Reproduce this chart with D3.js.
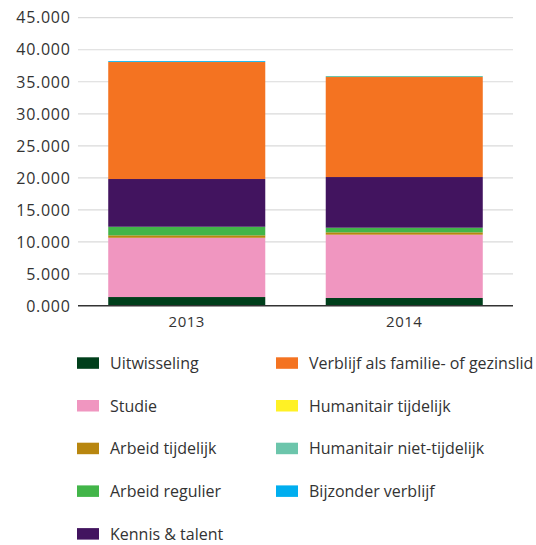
<!DOCTYPE html>
<html>
<head>
<meta charset="utf-8">
<script src="https://cdn.jsdelivr.net/npm/d3@7"></script>
<style>
  html, body { margin: 0; padding: 0; background: #fff; }
  svg { display: block; }
  text { font-family: "Open Sans", "Noto Sans", sans-serif; fill: #333; }
</style>
</head>
<body>
<svg id="chart" width="536" height="545"></svg>
<script>
const years = ["2013", "2014"];
const seriesNames = [
  "Uitwisseling", "Studie", "Arbeid tijdelijk", "Arbeid regulier", "Kennis & talent",
  "Verblijf als familie- of gezinslid", "Humanitair tijdelijk", "Humanitair niet-tijdelijk", "Bijzonder verblijf"
];
const seriesColors = ["#003f1b", "#f096c0", "#b8860f", "#42b549", "#42145f",
  "#f47321", "#fff125", "#6cc5ab", "#00aeef"];
const uitwisseling = [1400, 1250];
const studie = [9250, 9880];
const arbeidTijdelijk = [380, 370];
const arbeidRegulier = [1340, 720];
const kennisTalent = [7450, 7910];
const verblijfFamilie = [18260, 15610];
const humanitairTijdelijk = [0, 0];
const humanitairNietTijdelijk = [30, 160];
const bijzonderVerblijf = [130, 0];
const yTicks = [0, 5000, 10000, 15000, 20000, 25000, 30000, 35000, 40000, 45000];
const yTickLabels = ["0.000", "5.000", "10.000", "15.000", "20.000", "25.000", "30.000", "35.000", "40.000", "45.000"];

const seriesValues = [uitwisseling, studie, arbeidTijdelijk, arbeidRegulier, kennisTalent,
  verblijfFamilie, humanitairTijdelijk, humanitairNietTijdelijk, bijzonderVerblijf];

const table = years.map((yr, i) => {
  const row = { year: yr };
  seriesNames.forEach((s, k) => row[s] = seriesValues[k][i]);
  return row;
});

const svg = d3.select("#chart");
const plotLeft = 78, plotRight = 513, plotTop = 17.7, plotBottom = 306;

const x = d3.scaleBand().domain(years).range([plotLeft, plotRight]).paddingInner(0.278).paddingOuter(0.139);
const y = d3.scaleLinear().domain([0, 45000]).range([plotBottom, plotTop]);

// gridlines
svg.append("g").selectAll("line").data(yTicks.slice(1)).join("line")
  .attr("x1", plotLeft).attr("x2", plotRight)
  .attr("y1", d => y(d)).attr("y2", d => y(d))
  .attr("stroke", "#dadada").attr("stroke-width", 1.2);

// y labels
svg.append("g").selectAll("text").data(yTicks).join("text")
  .attr("x", 70.5).attr("y", d => y(d))
  .attr("dy", "0.36em")
  .attr("text-anchor", "end")
  .style("font-size", "16px")
  .style("letter-spacing", "0.7px")
  .text((d, i) => yTickLabels[i]);

const stack = d3.stack().keys(seriesNames);
const stacked = stack(table);

svg.append("g").selectAll("g").data(stacked).join("g")
  .attr("fill", (d, i) => seriesColors[i])
  .selectAll("rect").data(d => d).join("rect")
  .attr("x", d => x(d.data.year))
  .attr("width", x.bandwidth())
  .attr("y", d => y(d[1]))
  .attr("height", d => Math.max(0, y(d[0]) - y(d[1])));

// baseline
svg.append("line")
  .attr("x1", plotLeft).attr("x2", plotRight)
  .attr("y1", y(0) - 0.3).attr("y2", y(0) - 0.3)
  .attr("stroke", "#333").attr("stroke-width", 1.5);

// x labels
svg.append("g").selectAll("text").data(years).join("text")
  .attr("x", d => x(d) + x.bandwidth() / 2)
  .attr("y", 326.5)
  .attr("text-anchor", "middle")
  .style("font-size", "15px")
  .style("letter-spacing", "0.5px")
  .text(d => d);

// legend
const legendOrder = [0, 5, 1, 6, 2, 7, 3, 8, 4];
const legend = svg.append("g");
legendOrder.forEach((k, j) => {
  const col = j % 2, row = Math.floor(j / 2);
  const lx = col === 0 ? 77 : 276;
  const ly = 357.3 + row * 42.7;
  legend.append("rect").attr("x", lx).attr("y", ly).attr("width", 22).attr("height", 11.5)
    .attr("fill", seriesColors[k]);
  legend.append("text").attr("x", lx + 33).attr("y", ly + 11.6)
    .style("font-size", "16px")
    .text(seriesNames[k]);
});
</script>
</body>
</html>
